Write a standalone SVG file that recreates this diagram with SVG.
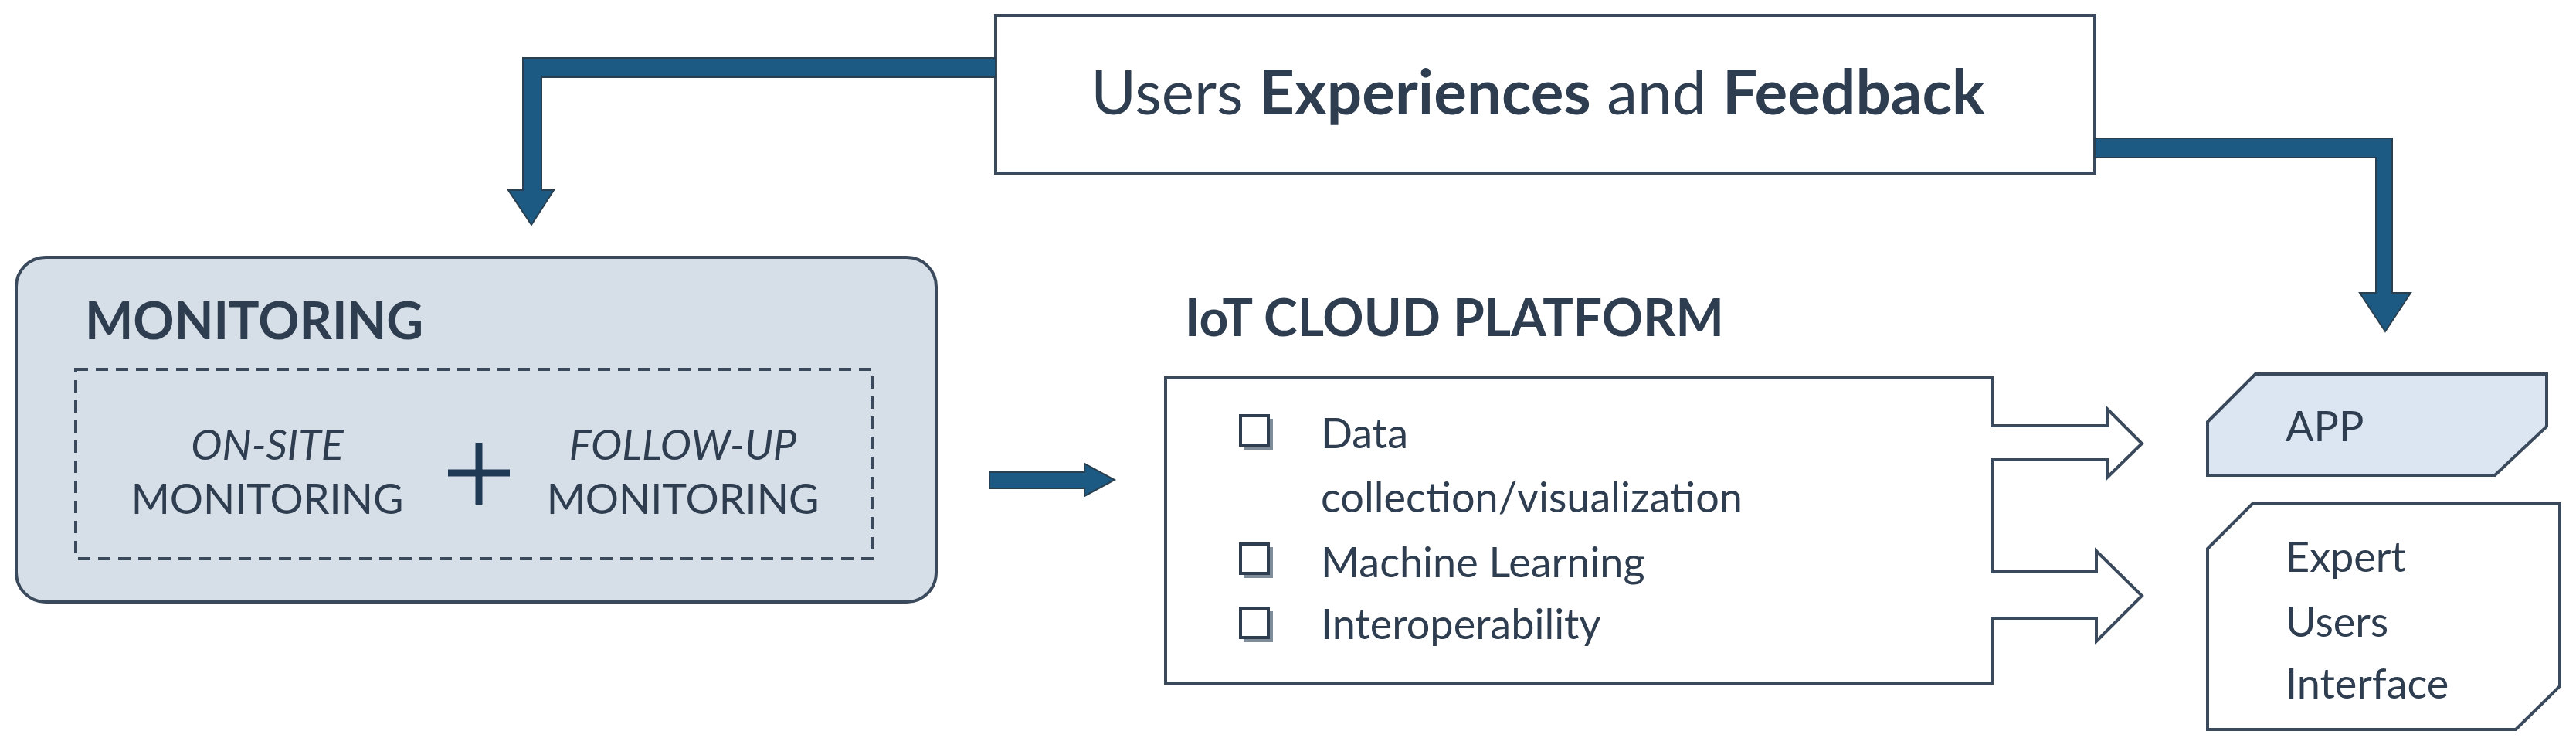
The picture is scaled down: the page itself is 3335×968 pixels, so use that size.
<svg xmlns="http://www.w3.org/2000/svg" width="3335" height="968" viewBox="0 0 3335 968">
<style>
text{font-family:Lato,"Open Sans","Liberation Sans",sans-serif;fill:#2e3d4f}
.b{font-weight:bold}
.t{font-size:54px}
.box{fill:#fff;stroke:#3a4a5c;stroke-width:4}
.arr{fill:#1c5a83;stroke:#2a4050;stroke-width:2}
.cb{fill:#fff;stroke:#2e3d4f;stroke-width:4}
</style>
<g id="feedback">
<rect class="box" x="1289" y="20" width="1423" height="204"/>
<text x="1991" y="148" font-size="80" text-anchor="middle">Users <tspan class="b">Experiences</tspan> and <tspan class="b">Feedback</tspan></text>
</g>
<g id="monitoring">
<rect x="21" y="333" width="1191" height="446" rx="38" fill="#d6dee7" stroke="#3a4a5c" stroke-width="4"/>
<text class="b" x="110" y="439" font-size="66">MONITORING</text>
<rect x="98" y="478" width="1031" height="245" fill="none" stroke="#3a4a5c" stroke-width="4" stroke-dasharray="16 10"/>
<text class="t" x="346" y="595" font-style="italic" text-anchor="middle">ON-SITE</text>
<text class="t" x="346" y="665" text-anchor="middle">MONITORING</text>
<text class="t" x="884" y="595" font-style="italic" text-anchor="middle">FOLLOW-UP</text>
<text class="t" x="884" y="665" text-anchor="middle">MONITORING</text>
<path d="M580 612H660M620 573V653" stroke="#1f3a55" stroke-width="9"/>
</g>
<g id="iot">
<text class="b" x="1534" y="435" font-size="66">IoT CLOUD PLATFORM</text>
<path class="box" d="M1509 489H2579V551H2728V529L2773 574L2728 618V595H2579V740H2714V713L2773 771L2714 830V800H2579V884H1509Z"/>
<g fill="#7f8c99"><rect x="1610" y="542" width="38" height="40"/><rect x="1610" y="708" width="38" height="40"/><rect x="1610" y="791" width="38" height="40"/></g>
<g class="cb">
<rect x="1606" y="538" width="36" height="38"/><rect x="1606" y="704" width="36" height="38"/><rect x="1606" y="787" width="36" height="38"/>
</g>
<text class="t" x="1710" y="580">Data</text>
<text class="t" x="1710" y="663">collection/visualization</text>
<text class="t" x="1710" y="747">Machine Learning</text>
<text class="t" x="1710" y="827">Interoperability</text>
</g>
<g id="app">
<path d="M2858 546L2920 484H3297V552L3230 615H2858Z" fill="#dce6f2" stroke="#3a4a5c" stroke-width="4"/>
<text class="t" x="2959" y="571">APP</text>
</g>
<g id="expert">
<path class="box" d="M2858 710L2916 652H3314V888L3257 944H2858Z"/>
<text class="t" x="2959" y="740">Expert</text>
<text class="t" x="2959" y="824">Users</text>
<text class="t" x="2959" y="904">Interface</text>
</g>
<g id="connectors">
<path class="arr" d="M1289 75V100H701V246H717L688 291L658 246H677V75Z"/>
<path class="arr" d="M2712 179H3097V379H3121L3088 429L3055 379H3076V204H2712Z"/>
<path class="arr" d="M1281 611H1404V600L1443 621L1404 642V632H1281Z"/>
</g>
</svg>
